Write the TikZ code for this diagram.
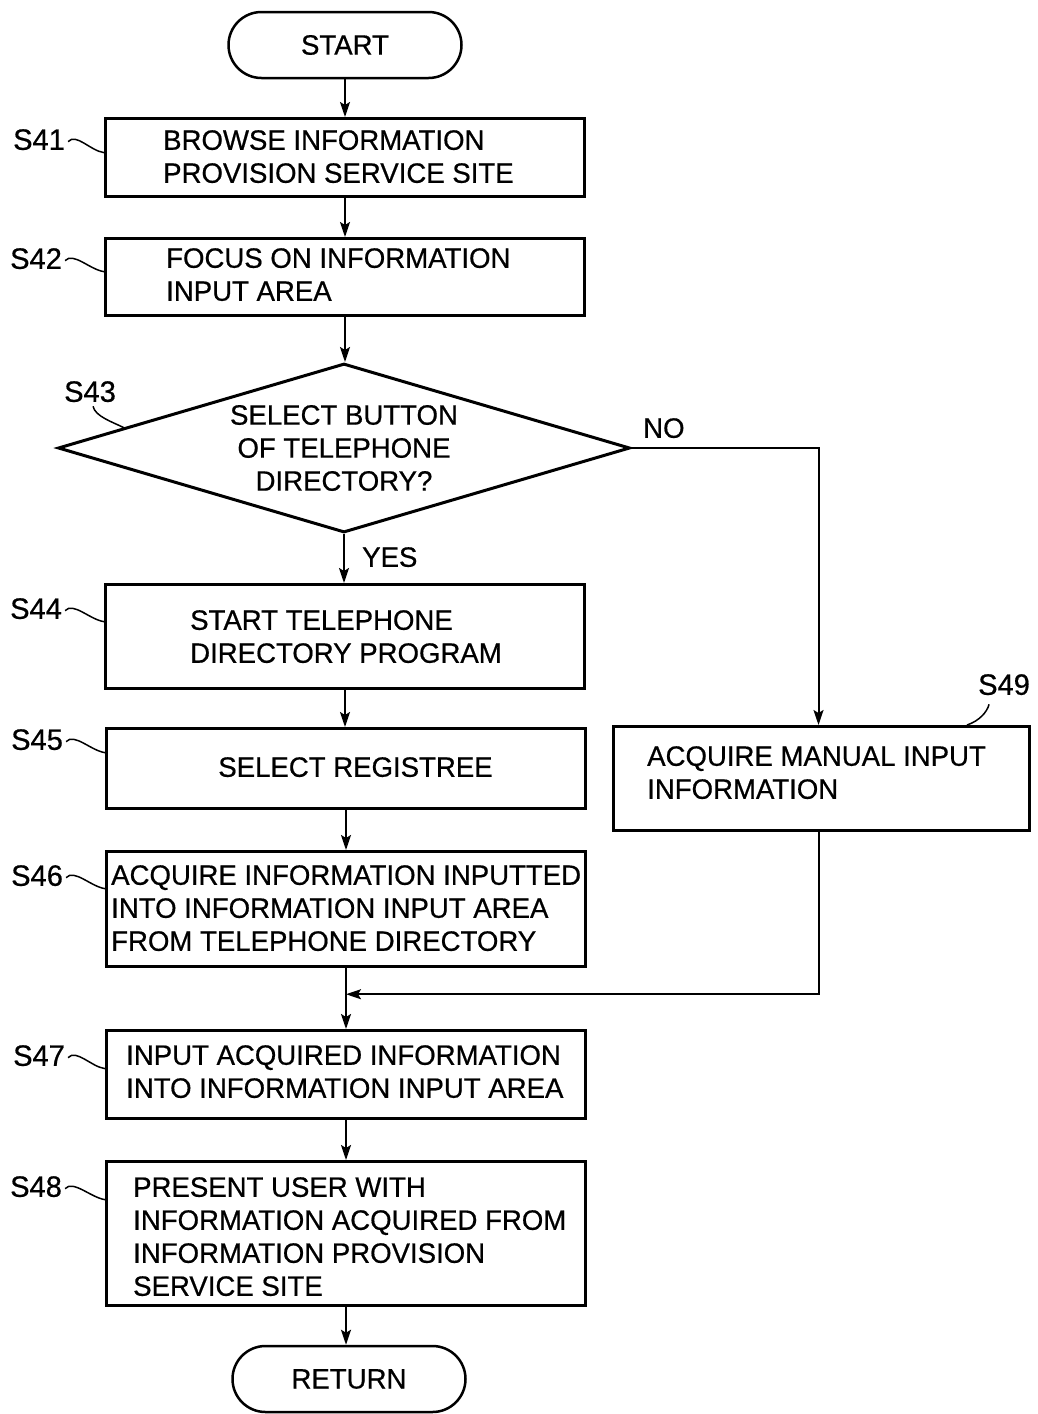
\documentclass[tikz,border=0pt]{standalone}
\usepackage{fontspec}
\setmainfont{Liberation Sans}[FakeStretch=0.985,FakeBold=0.6]
\usetikzlibrary{shapes.geometric,shapes.misc,arrows.meta,calc}

% leader line from a step label to the border of its box
\newcommand{\stepleader}[2]{%
  \draw[leader] ($(#1.east)+(3,2)$) .. controls +(8,-9) and +(-14,-2) .. ($(#1.east -| #2.west)+(0,13)$);}

\begin{document}
\begin{tikzpicture}[x=1pt,y=-1pt,
  every node/.style={font=\fontsize{28pt}{33pt}\selectfont},
  stepbox/.style={draw, line width=3pt, rectangle, minimum width=479pt, inner sep=0pt},
  term/.style={draw, line width=2.5pt, rounded rectangle, minimum width=233pt, minimum height=66pt, inner sep=0pt},
  txt/.style={inner sep=0pt, align=left, anchor=north west},
  lab/.style={inner sep=0pt, anchor=north west},
  steplab/.style={lab, font=\fontsize{29.5pt}{33pt}\selectfont},
  flow/.style={line width=2pt, -{Stealth[length=15pt,width=10pt,inset=3pt]}},
  leader/.style={line width=1.5pt}]

\useasboundingbox (0,0) rectangle (1038,1414);

% terminals
\node[term] (start) at (345,45) {START};
\node[term] (ret) at (349,1379) {RETURN};

% process boxes
\node[stepbox, minimum height=78pt] (s41) at (345,157.5) {};
\node[stepbox, minimum height=77pt] (s42) at (345,277) {};
\node[draw, diamond, line width=3pt, aspect=3.34, minimum width=572pt, minimum height=169pt,
      inner sep=0pt, align=center] (d43) at (344,448) {SELECT BUTTON\\OF TELEPHONE\\DIRECTORY?};
\node[stepbox, minimum height=104pt] (s44) at (345,636.5) {};
\node[stepbox, minimum height=80pt] (s45) at (346,768.5) {};
\node[stepbox, minimum height=115pt] (s46) at (346,909) {};
\node[stepbox, minimum height=88pt] (s47) at (346,1074.5) {};
\node[stepbox, minimum height=144pt] (s48) at (346,1233.5) {};
\node[stepbox, minimum width=416pt, minimum height=104pt] (s49) at (821.5,778.5) {};

% box texts
\node[txt] (t41) at (163,130) {BROWSE INFORMATION\\PROVISION SERVICE SITE};
\node[txt] (t42) at (166,248) {FOCUS ON INFORMATION\\INPUT AREA};
\node[txt] (t44) at (190,610) {START TELEPHONE\\DIRECTORY PROGRAM};
\node[inner sep=0pt, anchor=north] (t45) at (355.5,757) {SELECT REGISTREE};
\node[txt] (t46) at (111,865) {ACQUIRE INFORMATION INPUTTED\\INTO INFORMATION INPUT AREA\\FROM TELEPHONE DIRECTORY};
\node[txt] (t47) at (126,1045) {INPUT ACQUIRED INFORMATION\\INTO INFORMATION INPUT AREA};
\node[txt] (t48) at (133,1177) {PRESENT USER WITH\\INFORMATION ACQUIRED FROM\\INFORMATION PROVISION\\SERVICE SITE};
\node[txt] (t49) at (647,746) {ACQUIRE MANUAL INPUT\\INFORMATION};

% branch labels
\node[lab] (no) at (643,418) {NO};
\node[lab] (yes) at (362,547) {YES};

% step labels
\node[steplab] (l41) at (13,129) {S41};
\node[steplab] (l42) at (10,248) {S42};
\node[steplab] (l43) at (64,381) {S43};
\node[steplab] (l44) at (10,598) {S44};
\node[steplab] (l45) at (11,729) {S45};
\node[steplab] (l46) at (11,865) {S46};
\node[steplab] (l47) at (13,1045) {S47};
\node[steplab] (l48) at (10,1176) {S48};
\node[steplab] (l49) at (978,674) {S49};

\stepleader{l41}{s41}
\stepleader{l42}{s42}
\stepleader{l44}{s44}
\stepleader{l45}{s45}
\stepleader{l46}{s46}
\stepleader{l47}{s47}
\stepleader{l48}{s48}
\draw[leader] ($(l43.south)+(3,4)$) .. controls +(2,10) and +(-12,-6) .. ($(d43.west)!0.235!(d43.north)$);
\draw[leader] ($(l49.south)+(-15,9)$) .. controls +(-2,8) and +(12,-4) .. ($(s49.north east)+(-64,0)$);

% main flow
\draw[flow] (start.south) -- (start.south |- s41.north);
\draw[flow] (s41.south) -- (s42.north);
\draw[flow] (s42.south) -- (s42.south |- d43.north);
\draw[flow] (d43.south) -- (d43.south |- s44.north);
\draw[flow] (s44.south) -- (s44.south |- s45.north);
\draw[flow] (s45.south) -- (s46.north);
\draw[flow] (s46.south) -- (s47.north);
\draw[flow] (s47.south) -- (s48.north);
\draw[flow] (s48.south) -- (s48.south |- ret.north);

% NO branch and its return into the main line
\coordinate (m47) at ($(s46.south)!0.43!(s47.north)$);
\draw[flow] (d43.east) -| ([xshift=-3pt]s49.north);
\draw[flow] ([xshift=-3pt]s49.south) |- (m47);

\end{tikzpicture}
\end{document}
